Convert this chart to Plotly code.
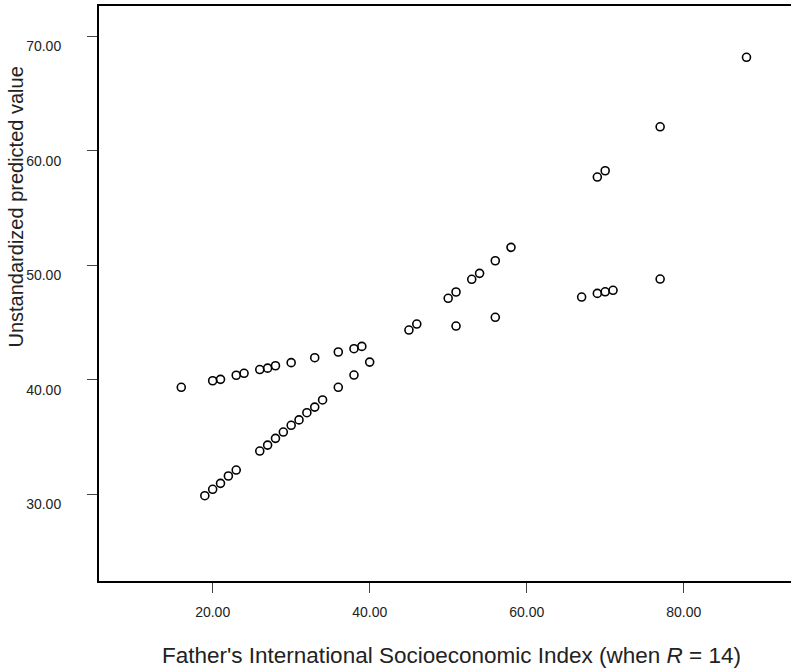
import plotly.graph_objects as go

# Upper band of predicted values
x_upper = [16, 20, 21, 23, 24, 26, 27, 28, 30, 33, 36, 38, 39, 51, 56, 67, 69, 70, 71, 77]
y_upper = [39.35, 39.92, 40.04, 40.40, 40.57, 40.90, 41.02, 41.23, 41.50, 41.93, 42.43,
           42.72, 42.92, 44.70, 45.46, 47.23, 47.55, 47.69, 47.82, 48.80]

# Lower (steeper) band of predicted values
x_lower = [19, 20, 21, 22, 23, 26, 27, 28, 29, 30, 31, 32, 33, 34, 36, 38, 40, 45, 46,
           50, 51, 53, 54, 56, 58, 69, 70, 77, 88]
y_lower = [29.88, 30.44, 30.96, 31.60, 32.12, 33.78, 34.30, 34.89, 35.44, 36.03, 36.50,
           37.13, 37.62, 38.24, 39.35, 40.42, 41.55, 44.35, 44.87, 47.12, 47.67, 48.78,
           49.30, 50.40, 51.57, 57.71, 58.26, 62.10, 68.17]

x_ticks = [20, 40, 60, 80]
y_ticks = [30, 40, 50, 60, 70]

x_title = "Father's International Socioeconomic Index (when <i>R</i> = 14)"
y_title = "Unstandardized predicted value"

FONT = "Liberation Sans, Arial, Helvetica, sans-serif"

marker = dict(symbol="circle-open", size=8, color="black", line=dict(width=1.6, color="black"))

fig = go.Figure()
fig.add_trace(go.Scatter(x=x_upper, y=y_upper, mode="markers", marker=marker, showlegend=False))
fig.add_trace(go.Scatter(x=x_lower, y=y_lower, mode="markers", marker=marker, showlegend=False))

fig.update_layout(
    width=791, height=669,
    margin=dict(l=99, r=0, t=6, b=88),
    paper_bgcolor="white", plot_bgcolor="white",
    font=dict(family=FONT, color="#111111"),
    xaxis=dict(
        range=[5.52, 93.67], tickvals=x_ticks, tickformat=".2f",
        showgrid=False, zeroline=False,
        showline=True, linecolor="black", linewidth=2, mirror=True,
        ticks="outside", ticklen=10, tickwidth=1.2, tickcolor="#444444",
        tickfont=dict(size=14, family=FONT, color="#222222"),
        ticklabelstandoff=7,
    ),
    yaxis=dict(
        range=[22.43, 72.65], tickvals=y_ticks, tickformat=".2f",
        showgrid=False, zeroline=False,
        showline=True, linecolor="black", linewidth=2, mirror=False,
        ticks="outside", ticklen=10, tickwidth=1.2, tickcolor="#444444",
        tickfont=dict(size=14, family=FONT, color="#222222"),
        ticklabelstandoff=23, ticklabelshift=10,
    ),
    annotations=[
        dict(text=x_title, xref="paper", yref="paper", x=(451 - 99) / 692, y=(581 - 655) / 575,
             xanchor="center", yanchor="middle", showarrow=False,
             font=dict(size=22.5, family=FONT, color="#222222")),
        dict(text=y_title, xref="paper", yref="paper", x=(15 - 99) / 692, y=(581 - 207.5) / 575,
             xanchor="center", yanchor="middle", textangle=-90, showarrow=False,
             font=dict(size=20, family=FONT, color="#222222")),
    ],
)

fig.write_html(
    "out.html",
    config={"displayModeBar": False},
    post_script="document.body.style.margin='0';document.body.style.overflow='hidden';",
)
